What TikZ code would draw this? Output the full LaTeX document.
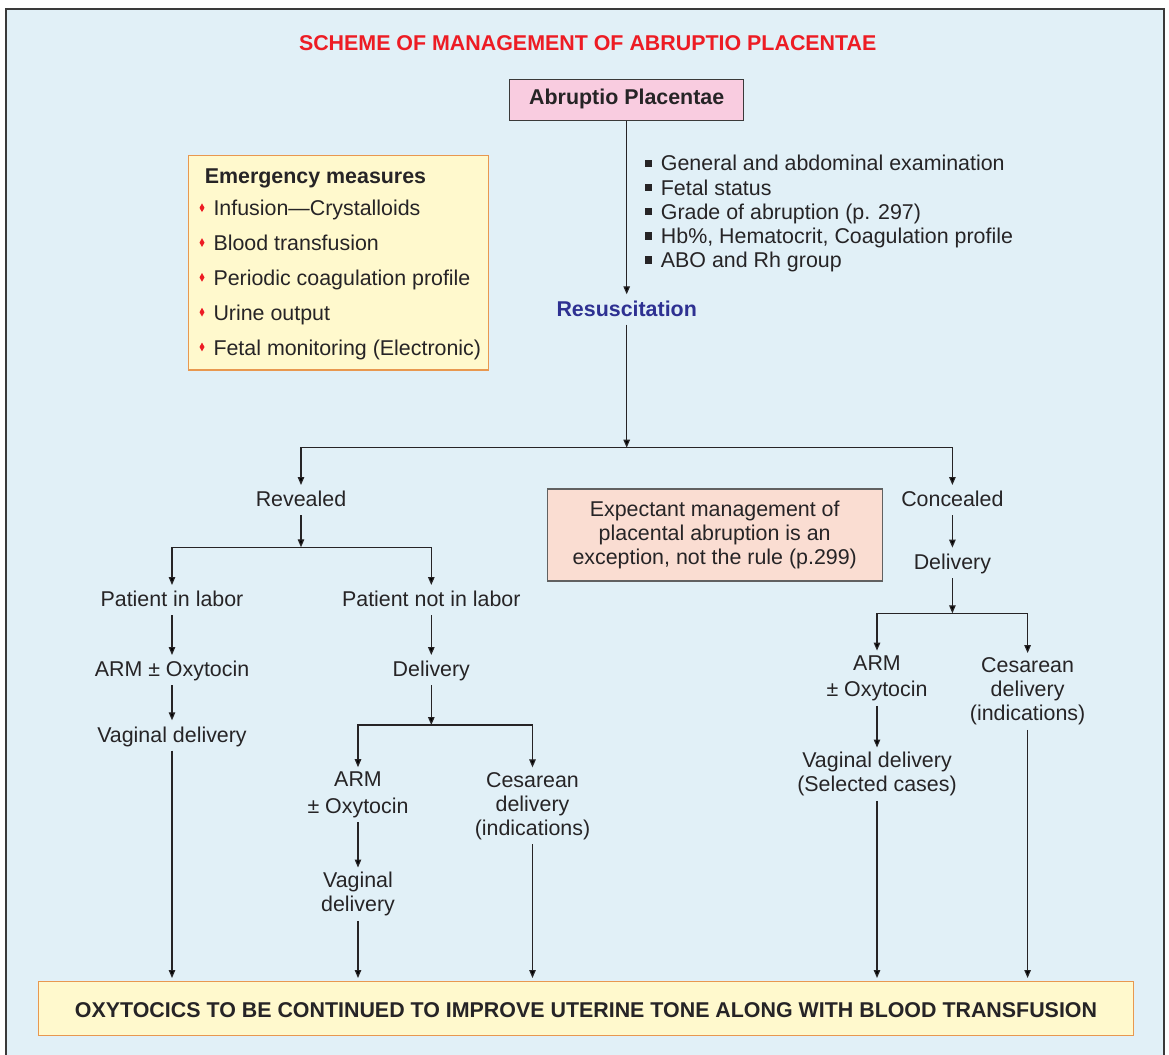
\documentclass[tikz,border=0pt]{standalone}
\usepackage{fontspec}
\setmainfont{Liberation Sans}
\usepackage{xcolor}
\usepackage{tikz}
\usetikzlibrary{arrows.meta}
\definecolor{panelblue}{RGB}{225,240,247}
\definecolor{framegray}{RGB}{58,58,58}
\definecolor{inkgray}{RGB}{38,36,38}
\definecolor{titlered}{RGB}{237,28,36}
\definecolor{resblue}{RGB}{46,49,146}
\definecolor{pinkfill}{RGB}{249,204,224}
\definecolor{creamfill}{RGB}{255,249,205}
\definecolor{orangeedge}{RGB}{232,152,80}
\definecolor{peachfill}{RGB}{250,221,210}
\newcommand{\sqbullet}{\rule[3.7pt]{7.4pt}{7.4pt}\hspace{9pt}}
\newcommand{\redbullet}{\tikz[baseline=0pt]\fill[titlered] (0pt,3.7pt) -- (2.5pt,8pt) -- (0pt,12.4pt) -- (-2.5pt,8pt) -- cycle;\hspace{9pt}}
\newcommand{\txtfont}{\fontsize{21.4}{24}\selectfont}

\begin{document}
\begin{tikzpicture}[x=1pt, y=-1pt,
  font=\txtfont, text=inkgray,
  lbl/.style={inner xsep=2pt, inner ysep=4.5pt, anchor=base},
  one/.style={lbl, text height=17pt, text depth=4pt},
  two/.style={lbl, align=center},
  box/.style={rectangle, draw=#1, line width=1.4pt, inner sep=0pt},
  arr/.style={draw=inkgray, line width=1.2pt, -{Triangle[length=8pt, width=6.5pt]}},
]
  \useasboundingbox (0,0) rectangle (1169,1054);
  % Panel
  \fill[panelblue] (6,9) rectangle (1164,1075);
  \draw[framegray, line width=2.5pt] (6,1075) -- (6,9) -- (1164,9) -- (1164,1075);

  % Heading
  \node[font=\txtfont\bfseries, text=titlered, anchor=base, inner sep=0pt] (title) at (587.7,51) {SCHEME OF MANAGEMENT OF ABRUPTIO PLACENTAE};
  \node[box=framegray, fill=pinkfill, minimum width=234pt, minimum height=41pt,
        text height=15.3pt, text depth=5pt, font=\txtfont\bfseries] (ap) at (626.7,99.8) {Abruptio Placentae};

  % Emergency measures (base = last line)
  \node[box=orangeedge, fill=creamfill, minimum width=300pt, minimum height=214.7pt] (emg) at (338.3,262.65) {};
  \node[anchor=base west, inner sep=0pt, font=\txtfont\bfseries] (emhead) at (204.7,183) {Emergency measures};
  \node[anchor=base west, inner sep=0pt, align=left, font=\fontsize{21.4}{34.8}\selectfont] (emlist) at (199.3,355)
    {\redbullet Infusion—Crystalloids\\\redbullet Blood transfusion\\\redbullet Periodic coagulation profile\\
     \redbullet Urine output\\\redbullet Fetal monitoring (Electronic)};

  % Work-up
  \node[anchor=base west, inner sep=0pt, align=left, font=\fontsize{21.4}{24.1}\selectfont] (checks) at (644.3,267.3)
    {\sqbullet General and abdominal examination\\\sqbullet Fetal status\\\sqbullet Grade of abruption (p. 297)\\
     \sqbullet Hb\%, Hematocrit, Coagulation profile\\\sqbullet ABO and Rh group};
  \node[one, font=\txtfont\bfseries, text=resblue] (res) at (626.7,316) {Resuscitation};
  \coordinate (split) at (626.7,447.7);

  % Revealed
  \node[one] (rev) at (301,506.7) {Revealed};
  \coordinate (revsplit) at (301,547.3);
  \node[one] (inlab) at (172,606.7) {Patient in labor};
  \node[one] (nolab) at (431.3,606.7) {Patient not in labor};
  \node[one] (armA) at (172,676.7) {ARM ± Oxytocin};
  \node[one] (vagA) at (172,742) {Vaginal delivery};
  \node[one] (delA) at (431.3,676.7) {Delivery};
  \coordinate (delAsplit) at (431.3,725);
  \node[two] (armB) at (358,813.3) {ARM\\[2.7pt]± Oxytocin};
  \node[two] (cesB) at (532.5,835) {Cesarean\\delivery\\(indications)};
  \node[two] (vagB) at (358,911.7) {Vaginal\\delivery};

  % Expectant note
  \node[box=framegray!80, fill=peachfill, minimum width=335pt, minimum height=92pt, align=center] (expt) at (714.7,535)
    {Expectant management of\\placental abruption is an\\exception, not the rule (p.299)};

  % Concealed
  \node[one] (con) at (952.4,506.7) {Concealed};
  \node[one] (delC) at (952.4,569.3) {Delivery};
  \coordinate (delCsplit) at (952.4,613.3);
  \node[two] (armC) at (877,696.7) {ARM\\[2.7pt]± Oxytocin};
  \node[two] (cesC) at (1027.6,720.7) {Cesarean\\delivery\\(indications)};
  \node[two] (vagC) at (877,791.7) {Vaginal delivery\\(Selected cases)};

  % Common end
  \node[box=orangeedge, fill=creamfill, minimum width=1095pt, minimum height=53.6pt,
        text height=18pt, text depth=0pt, font=\txtfont\bfseries] (tone) at (586,1008.5)
    {OXYTOCICS TO BE CONTINUED TO IMPROVE UTERINE TONE ALONG WITH BLOOD TRANSFUSION};

  % Arrows
  \draw[arr] (ap) -- (res);
  \draw[arr] (res) -- (split);
  \draw[arr] (split) -| (rev);
  \draw[arr] (split) -| (con);
  \draw[arr] (rev) -- (revsplit);
  \draw[arr] (revsplit) -| (inlab);
  \draw[arr] (revsplit) -| (nolab);
  \draw[arr] (inlab) -- (armA);
  \draw[arr] (armA) -- (vagA);
  \draw[arr] (nolab) -- (delA);
  \draw[arr] (delA) -- (delAsplit);
  \draw[arr] (delAsplit) -| (armB);
  \draw[arr] (delAsplit) -| (cesB);
  \draw[arr] (armB) -- (vagB);
  \draw[arr] (con) -- (delC);
  \draw[arr] (delC) -- (delCsplit);
  \draw[arr] (delCsplit) -| (armC);
  \draw[arr] (delCsplit) -| (cesC);
  \draw[arr] (armC) -- (vagC);
  \foreach \n in {vagA,vagB,cesB,vagC,cesC}
    \draw[arr, shorten >=3pt] (\n) -- (\n |- tone.north);
\end{tikzpicture}
\end{document}
